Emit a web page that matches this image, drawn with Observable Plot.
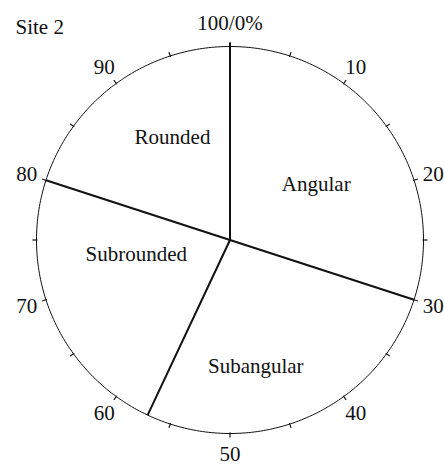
<!DOCTYPE html>
<html>
<head>
<meta charset="utf-8">
<script src="https://cdn.jsdelivr.net/npm/d3@7"></script>
<script src="https://cdn.jsdelivr.net/npm/@observablehq/plot@0.6"></script>
<style>
  html, body { margin: 0; padding: 0; background: #fff; }
  #chart svg { display: block; }
</style>
</head>
<body>
<div id="chart"></div>
<script>
// ---- data ----
const title = "Site 2";
const categories = ["Angular", "Subangular", "Subrounded", "Rounded"];
const percentages = [30, 27, 23, 20];
// annotation anchors (percent around the circle, fraction of radius)
const labelPct = [15.9, 46.8, 72.6, 91.9];
const labelRadius = [0.53, 0.667, 0.49, 0.61];
const minorTicks = [0, 5, 10, 15, 20, 25, 30, 35, 40, 45, 50, 55, 60, 65, 70, 75, 80, 85, 90, 95];
const tickValues = [0, 10, 20, 30, 40, 50, 60, 70, 80, 90];
const tickLabels = ["100/0%", "10", "20", "30", "40", "50", "60", "70", "80", "90"];

// ---- geometry helpers (percent -> unit-circle coordinates) ----
const ang = p => 2 * Math.PI * p / 100;
const px = (p, r) => r * Math.sin(ang(p));
const py = (p, r) => r * Math.cos(ang(p));

const bounds = [];
let acc = 0;
for (const v of percentages) { bounds.push(acc); acc += v; }

const circle = d3.range(0, 100.0001, 0.25).map(p => ({x: px(p, 1), y: py(p, 1)}));
const font = "'Liberation Serif', 'Times New Roman', serif";

const chart = Plot.plot({
  width: 444,
  height: 465,
  marginLeft: 36,
  marginRight: 21,
  marginTop: 46,
  marginBottom: 32,
  x: {domain: [-1, 1], axis: null},
  y: {domain: [-1, 1], axis: null},
  style: {fontFamily: font, background: "#fff"},
  marks: [
    Plot.line(circle, {x: "x", y: "y", stroke: "#111", strokeWidth: 1}),
    Plot.link(minorTicks, {
      x1: d => px(d, 0.995), y1: d => py(d, 0.995),
      x2: d => px(d, 1.021), y2: d => py(d, 1.021),
      stroke: "#111", strokeWidth: 1.2
    }),
    Plot.link(bounds, {
      x1: 0, y1: 0,
      x2: d => px(d, d === 0 ? 1.021 : 1.0), y2: d => py(d, d === 0 ? 1.021 : 1.0),
      stroke: "#111", strokeWidth: 2
    }),
    Plot.text(tickValues, {
      x: d => px(d, d === 0 ? 1.12 : 1.105), y: d => py(d, d === 0 ? 1.12 : 1.105),
      text: (d, i) => tickLabels[i],
      fontSize: 21, fill: "#111", fontFamily: font,
      textAnchor: "middle"
    }),
    Plot.text(categories, {
      x: (d, i) => px(labelPct[i], labelRadius[i]),
      y: (d, i) => py(labelPct[i], labelRadius[i]),
      text: d => d,
      fontSize: 21, fill: "#111", fontFamily: font
    }),
    Plot.text([title], {
      frameAnchor: "top-left", text: d => d,
      dx: -21, dy: -27, textAnchor: "start",
      fontSize: 21, fill: "#111", fontFamily: font
    })
  ]
});
document.getElementById("chart").appendChild(chart);
</script>
</body>
</html>
